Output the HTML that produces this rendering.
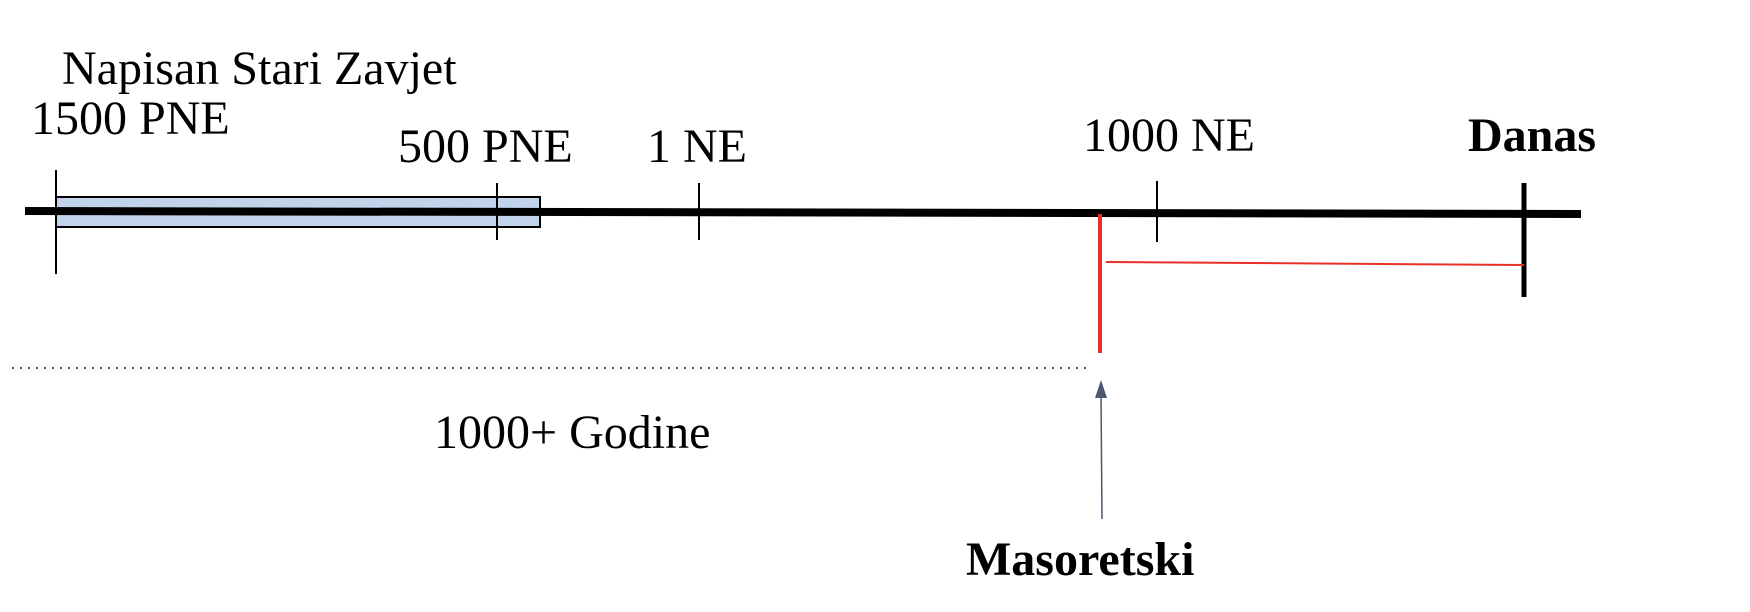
<!DOCTYPE html>
<html><head><style>
html,body{margin:0;padding:0;background:#fff;}
svg{display:block;}
text{font-family:"Liberation Serif",serif;font-size:48px;fill:#000;}
</style></head><body>
<svg width="1750" height="612" viewBox="0 0 1750 612" xmlns="http://www.w3.org/2000/svg">
<rect x="56" y="197" width="484" height="30" fill="#c0d3ea" stroke="#000" stroke-width="2"/>
<line x1="25" y1="211" x2="1581" y2="214" stroke="#000" stroke-width="8"/>
<line x1="56" y1="170" x2="56" y2="274" stroke="#000" stroke-width="2"/>
<line x1="497" y1="183" x2="497" y2="240" stroke="#000" stroke-width="2"/>
<line x1="699" y1="183" x2="699" y2="240" stroke="#000" stroke-width="2"/>
<line x1="1157" y1="181" x2="1157" y2="242" stroke="#000" stroke-width="2"/>
<line x1="1524" y1="183" x2="1524" y2="297" stroke="#000" stroke-width="5"/>
<line x1="1100" y1="214" x2="1100" y2="353" stroke="#e8302a" stroke-width="4"/>
<line x1="1106" y1="262" x2="1524" y2="265" stroke="#e8302a" stroke-width="2"/>
<line x1="12" y1="368" x2="1090" y2="368" stroke="#4a5568" stroke-width="2" stroke-dasharray="2,6"/>
<line x1="1102" y1="519" x2="1101" y2="395" stroke="#4a5a6e" stroke-width="1.5"/>
<polygon points="1101,380 1095,398 1107,398" fill="#4a5a6e"/>
<text x="62" y="84">Napisan Stari Zavjet</text>
<text x="31" y="134">1500 PNE</text>
<text x="398" y="162">500 PNE</text>
<text x="647" y="162">1 NE</text>
<text x="1083" y="151">1000 NE</text>
<text x="1468" y="151" font-weight="bold">Danas</text>
<text x="434" y="448">1000+ Godine</text>
<text x="966" y="575" font-weight="bold">Masoretski</text>
</svg>
</body></html>
